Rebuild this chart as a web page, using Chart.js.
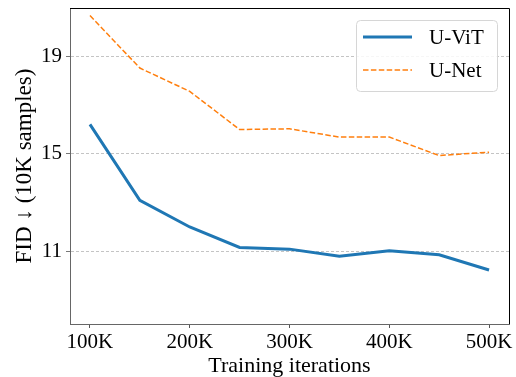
<!doctype html>
<html lang="en">
<head>
<meta charset="utf-8">
<title>FID vs training iterations</title>
<script src="https://cdn.jsdelivr.net/npm/chart.js@4.4.1/dist/chart.umd.min.js"></script>
<style>
  html, body { margin: 0; padding: 0; background: #fff; }
  #wrap { width: 516px; height: 377px; }
</style>
</head>
<body>
<div id="wrap"><canvas id="fid"></canvas></div>
<script>
// values
var iterations = [100000, 150000, 200000, 250000, 300000, 350000, 400000, 450000, 500000];
var uvit = [16.21, 13.09, 11.99, 11.15, 11.08, 10.79, 11.01, 10.85, 10.22];
var unet = [20.69, 18.53, 17.57, 16.00, 16.03, 15.69, 15.69, 14.93, 15.07];
var xTicks = [100000, 200000, 300000, 400000, 500000];
var yTicks = [11, 15, 19];
var seriesNames = ["U-ViT", "U-Net"];

var serif = "'Liberation Serif', 'Times New Roman', serif";

function pts(ys) {
  return iterations.map(function (x, i) { return { x: x, y: ys[i] }; });
}

// matplotlib style box legend, top right inside the axes
var boxLegend = {
  id: "boxLegend",
  afterDraw: function (chart) {
    var ctx = chart.ctx, area = chart.chartArea;
    var w = 141, h = 71;
    var x0 = area.right - 12 - w, y0 = area.top + 12;
    ctx.save();
    ctx.beginPath();
    ctx.roundRect(x0 + 0.5, y0 + 0.5, w, h, 4);
    ctx.fillStyle = "rgba(255,255,255,0.85)";
    ctx.fill();
    ctx.strokeStyle = "#d6d6d6";
    ctx.lineWidth = 1;
    ctx.stroke();
    chart.data.datasets.forEach(function (ds, i) {
      var cy = y0 + 17 + i * 33;
      ctx.beginPath();
      ctx.setLineDash(ds.borderDash || []);
      ctx.strokeStyle = ds.borderColor;
      ctx.lineWidth = ds.borderWidth;
      ctx.moveTo(x0 + 7, cy);
      ctx.lineTo(x0 + 56, cy);
      ctx.stroke();
      ctx.setLineDash([]);
      ctx.fillStyle = "#000";
      ctx.font = "21px " + serif;
      ctx.textBaseline = "middle";
      ctx.fillText(ds.label, x0 + 73, cy + 1);
    });
    ctx.restore();
  }
};

// top and right spines
var frame = {
  id: "frame",
  afterDraw: function (chart) {
    var ctx = chart.ctx, a = chart.chartArea;
    ctx.save();
    ctx.strokeStyle = "#000";
    ctx.lineWidth = 1;
    ctx.beginPath();
    ctx.moveTo(a.left, a.top + 0.5);
    ctx.lineTo(a.right + 0.5, a.top + 0.5);
    ctx.lineTo(a.right + 0.5, a.bottom);
    ctx.stroke();
    ctx.restore();
  }
};

var ctx = document.getElementById("fid").getContext("2d");
var chart = new Chart(ctx, {
  type: "line",
  data: {
    datasets: [{
      label: seriesNames[0],
      data: pts(uvit),
      borderColor: "#1f77b4",
      backgroundColor: "#1f77b4",
      borderWidth: 3,
      pointRadius: 0,
      tension: 0
    }, {
      label: seriesNames[1],
      data: pts(unet),
      borderColor: "#ff7f0e",
      backgroundColor: "#ff7f0e",
      borderWidth: 1.5,
      borderDash: [5.5, 2.4],
      pointRadius: 0,
      tension: 0
    }]
  },
  options: {
    responsive: true,
    maintainAspectRatio: false,
    animation: false,
    layout: { padding: { top: 8, right: 7, left: 0, bottom: 0 } },
    plugins: { legend: { display: false }, tooltip: { enabled: false } },
    scales: {
      x: {
        type: "linear",
        min: 80000,
        max: 520000,
        afterBuildTicks: function (s) { s.ticks = xTicks.map(function (v) { return { value: v }; }); },
        afterFit: function (s) { s.height = 53; s.paddingLeft = 0; s.paddingRight = 0; },
        ticks: {
          color: "#000",
          font: { family: serif, size: 21 },
          padding: 2,
          maxRotation: 0,
          callback: function (v) { return (v / 1000) + "K"; }
        },
        grid: { drawOnChartArea: false, tickLength: 4, tickColor: "#555" },
        border: { color: "#666", width: 1 },
        title: {
          display: true,
          text: "Training iterations",
          color: "#000",
          font: { family: serif, size: 22, lineHeight: 1 },
          padding: { top: 0, bottom: 0 }
        }
      },
      y: {
        min: 8,
        max: 21,
        afterBuildTicks: function (s) { s.ticks = yTicks.map(function (v) { return { value: v }; }); },
        afterFit: function (s) { s.width = 70; s.paddingTop = 0; s.paddingBottom = 0; },
        ticks: {
          color: "#000",
          font: { family: serif, size: 21 },
          padding: 4
        },
        grid: {
          color: "#b5b5b5",
          lineWidth: 0.8,
          tickLength: 4,
          tickColor: "#555",
          tickBorderDash: []
        },
        border: { color: "#666", width: 1, dash: [3, 2] },
        title: {
          display: true,
          text: "FID ↓ (10K samples)",
          color: "#000",
          font: { family: serif, size: 23, lineHeight: 1 },
          padding: { top: 13, bottom: 0 }
        }
      }
    }
  },
  plugins: [boxLegend, frame]
});
</script>
</body>
</html>
